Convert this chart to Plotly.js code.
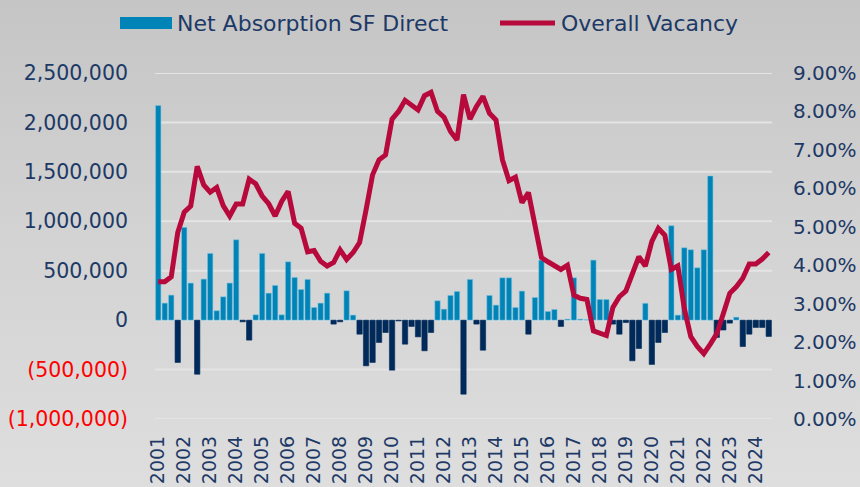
<!DOCTYPE html>
<html>
<head>
<meta charset="utf-8">
<script src="https://cdn.plot.ly/plotly-3.0.1.min.js"></script>
<style>
  html, body { margin: 0; padding: 0; }
  #chart { width: 860px; height: 487px; background: linear-gradient(to bottom, #c5c5c5 0%, #d2d2d2 45%, #dedede 100%); }
</style>
</head>
<body>
<div id="chart"></div>
<script>
// ---- DATA ----
const years = [2001, 2002, 2003, 2004, 2005, 2006, 2007, 2008, 2009, 2010, 2011, 2012,
               2013, 2014, 2015, 2016, 2017, 2018, 2019, 2020, 2021, 2022, 2023, 2024];

// Net absorption (SF, direct), quarterly 2001 Q1 - 2024 Q3
const netAbsorption = [
  2170000, 172000, 253000, -428000,
  938000, 375000, -547000, 415000,
  675000, 95000, 236000, 375000,
  813000, -17000, -202000, 54000,
  675000, 273000, 351000, 54000,
  590000, 432000, 310000, 412000,
  128000, 172000, 273000, -40000,
  -17000, 297000, 51000, -142000,
  -462000, -428000, -226000, -125000,
  -506000, -8000, -243000, -64000,
  -169000, -310000, -125000, 196000,
  111000, 250000, 290000, -749000,
  412000, -40000, -304000, 250000,
  152000, 428000, 428000, 128000,
  294000, -142000, 229000, 607000,
  88000, 108000, -64000, 10000,
  428000, 10000, 5000, 607000,
  209000, 209000, -40000, -142000,
  -24000, -411000, -287000, 170000,
  -448000, -226000, -125000, 955000,
  51000, 732000, 712000, 530000,
  712000, 1458000, -175000, -100000,
  -30000, 30000, -267000, -142000,
  -74000, -74000, -165000
];

// Overall vacancy (%), quarterly 2001 Q1 - 2024 Q3
const overallVacancy = [
  3.57, 3.57, 3.70, 4.85,
  5.38, 5.54, 6.57, 6.09,
  5.90, 6.02, 5.55, 5.28,
  5.59, 5.59, 6.24, 6.12,
  5.80, 5.60, 5.28, 5.66,
  5.92, 5.09, 4.96, 4.35,
  4.38, 4.10, 3.98, 4.07,
  4.40, 4.15, 4.33, 4.59,
  5.44, 6.35, 6.74, 6.87,
  7.80, 8.00, 8.29, 8.17,
  8.04, 8.41, 8.50, 8.00,
  7.85, 7.48, 7.26, 8.44,
  7.80, 8.13, 8.39, 7.95,
  7.78, 6.74, 6.20, 6.29,
  5.63, 5.89, 5.09, 4.20,
  4.09, 3.98, 3.89, 4.00,
  3.22, 3.14, 3.11, 2.29,
  2.24, 2.17, 2.90, 3.18,
  3.33, 3.79, 4.22, 3.98,
  4.62, 4.96, 4.78, 3.89,
  3.98, 2.87, 2.14, 1.89,
  1.70, 1.95, 2.22, 2.74,
  3.27, 3.44, 3.66, 4.03,
  4.03, 4.16, 4.33
];

const leftTickVals = [-1000000, -500000, 0, 500000, 1000000, 1500000, 2000000, 2500000];
const leftTickText = ["(1,000,000)", "(500,000)", "0", "500,000", "1,000,000", "1,500,000", "2,000,000", "2,500,000"];
const rightTickVals = [0, 1, 2, 3, 4, 5, 6, 7, 8, 9];
const rightTickText = ["0.00%", "1.00%", "2.00%", "3.00%", "4.00%", "5.00%", "6.00%", "7.00%", "8.00%", "9.00%"];

const seriesNames = ["Net Absorption SF Direct", "Overall Vacancy"];

// ---- BUILD ----
const quarters = [];
years.forEach(y => ['Q1', 'Q2', 'Q3', 'Q4'].forEach(q => quarters.push(y + ' ' + q)));
const cats = quarters.slice(0, netAbsorption.length);
const yearTickVals = years.map(y => y + ' Q1');
const yearTickText = years.map(String);

const NAVY = '#1d3966';
const BLUE = '#0083b7';
const DARK = '#002a5a';
const RED = '#b7093c';
const GRID = '#e4e4e4';
const FONT = 'DejaVu Sans, Noto Sans, sans-serif';

const barColors = netAbsorption.map(v => v >= 0 ? BLUE : DARK);
const barLines = netAbsorption.map(v => v >= 0 ? 'rgba(120,195,225,0.9)' : DARK);

const bars = {
  type: 'bar', name: seriesNames[0], x: cats, y: netAbsorption, yaxis: 'y',
  marker: { color: barColors, line: { color: barLines, width: 0.6 } },
  hoverinfo: 'x+y', showlegend: false
};
const line = {
  type: 'scatter', mode: 'lines', name: seriesNames[1], x: cats, y: overallVacancy, yaxis: 'y2',
  line: { color: RED, width: 5 }, showlegend: false
};

const L = 155, R = 88, T = 73, B = 68, W = 860, H = 487;
const pw = W - L - R, ph = H - T - B;
const px = v => (v - L) / pw;
const py = v => (H - B - v) / ph;

// horizontal gridlines at the left-axis ticks
const gridShapes = leftTickVals.map(v => ({
  type: 'line', layer: 'below', xref: 'paper', yref: 'y', x0: 0, x1: 1, y0: v, y1: v,
  line: { color: GRID, width: 2 }
}));

const layout = {
  width: W, height: H,
  margin: { l: L, r: R, t: T, b: B, pad: 0 },
  paper_bgcolor: 'rgba(0,0,0,0)', plot_bgcolor: 'rgba(0,0,0,0)',
  font: { family: FONT, color: NAVY, size: 20 },
  bargap: 0.18,
  showlegend: false,
  xaxis: {
    type: 'category', categoryorder: 'array', categoryarray: cats,
    range: [-0.5, cats.length - 0.5],
    tickmode: 'array', tickvals: yearTickVals, ticktext: yearTickText,
    tickangle: -90, tickfont: { family: FONT, size: 19, color: NAVY },
    showgrid: false, showline: false, zeroline: false, ticks: '',
    ticklabelstandoff: 12
  },
  yaxis: {
    range: [-1000000, 2500000],
    tickmode: 'array', tickvals: leftTickVals,
    ticktext: leftTickText.map((t, i) => leftTickVals[i] < 0 ? '<span style="color:#ff0000">' + t + '</span>' : t),
    tickfont: { family: FONT, size: 20.5, color: NAVY },
    showgrid: false, zeroline: false, showline: false, ticks: '',
    ticklabelstandoff: 26
  },
  yaxis2: {
    overlaying: 'y', side: 'right', range: [0, 9],
    tickmode: 'array', tickvals: rightTickVals, ticktext: rightTickText,
    tickfont: { family: FONT, size: 20, color: NAVY },
    showgrid: false, zeroline: false, showline: false, ticks: '',
    ticklabelstandoff: 20
  },
  shapes: gridShapes.concat([
    { type: 'rect', xref: 'paper', yref: 'paper', x0: px(120), x1: px(172), y0: py(29), y1: py(17),
      fillcolor: BLUE, line: { width: 0 } },
    { type: 'line', xref: 'paper', yref: 'paper', x0: px(500), x1: px(555), y0: py(23), y1: py(23),
      line: { color: RED, width: 5 } }
  ]),
  annotations: [
    { xref: 'paper', yref: 'paper', x: px(175), y: py(23), xanchor: 'left', yanchor: 'middle',
      text: seriesNames[0], showarrow: false, font: { family: FONT, size: 22, color: NAVY } },
    { xref: 'paper', yref: 'paper', x: px(559), y: py(23), xanchor: 'left', yanchor: 'middle',
      text: seriesNames[1], showarrow: false, font: { family: FONT, size: 22, color: NAVY } }
  ]
};

Plotly.newPlot('chart', [bars, line], layout, { displayModeBar: false, staticPlot: true });
</script>
</body>
</html>
